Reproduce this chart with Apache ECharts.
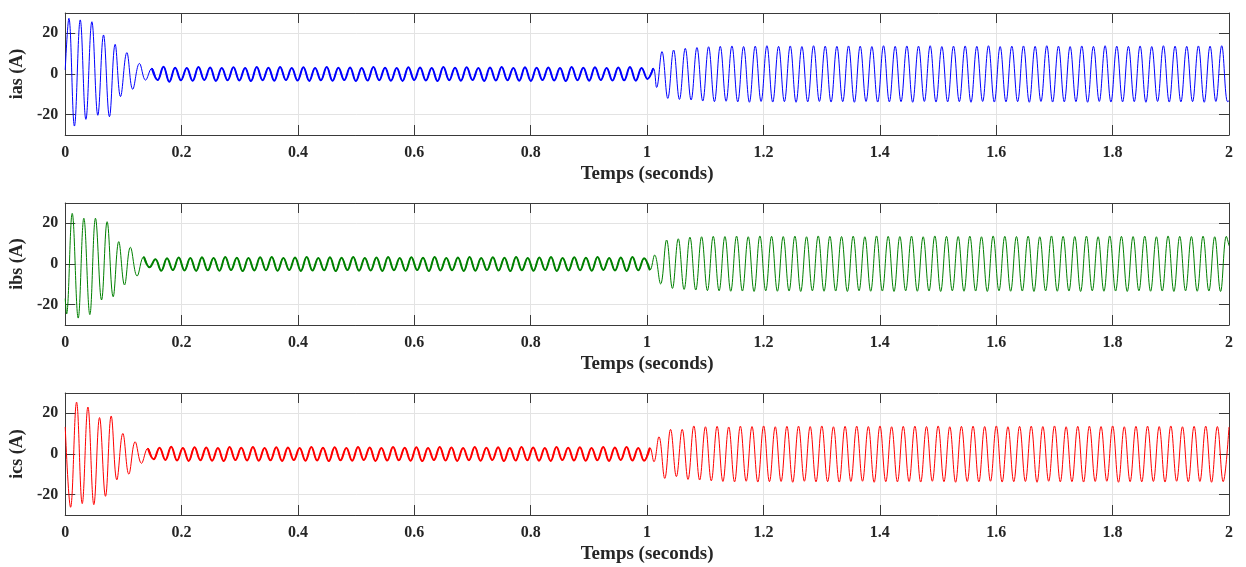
<!DOCTYPE html>
<html>
<head>
<meta charset="utf-8">
<script src="https://cdn.jsdelivr.net/npm/echarts@6/dist/echarts.min.js"></script>
<style>
  html, body { margin: 0; padding: 0; background: #ffffff; }
  #chart { width: 1246px; height: 567px; }
</style>
</head>
<body>
<div id="chart"></div>
<script>
// Stator phase currents of the machine, 0–2 s.
// Each trace is stored as its successive peaks and troughs (A):
//   *_START : start-up transient, [time (s), current (A)] pairs
//   *_LOW   : light-load regime, extrema evenly spread over *_LOW_SPAN
//   *_STEP  : extrema of the load step near t = 1 s
//   *_HIGH  : loaded regime, extrema evenly spread over *_HIGH_SPAN
//   *_END   : value at the end of the run

const X_RANGE = [0, 2];
const X_STEP = 0.2;
const Y_RANGE = [-30, 30];
const Y_TICKS = [-20, 0, 20];
const X_TITLE = 'Temps (seconds)';
const Y_TITLES = ['ias (A)', 'ibs (A)', 'ics (A)'];

// ---- phase a ----
const IAS_START = [[0, 2.0], [0.0063, 27.4], [0.0158, -25.6], [0.0258, 26.6], [0.0355, -22.3],
  [0.0458, 25.7], [0.0560, -20.3], [0.0658, 19.2], [0.0760, -21.0], [0.0858, 14.6],
  [0.0950, -11.1], [0.1059, 10.5], [0.1160, -7.5], [0.1276, 5.2], [0.1380, -3.0]];
const IAS_LOW_SPAN = [0.1488, 1.0106];
const IAS_LOW = [
  2.8, -3.0, 3.6, -3.8, 3.1, -3.1, 3.0, -3.3, 3.4, -3.0,
  3.2, -3.4, 2.9, -3.1, 3.3, -3.2, 3.0, -3.5, 3.4, -3.1,
  3.1, -3.3, 3.5, -3.0, 2.9, -3.2, 3.3, -3.4, 3.0, -3.1,
  3.4, -3.3, 3.1, -3.0, 3.2, -3.5, 3.0, -3.2, 3.5, -3.1,
  3.1, -3.3, 2.9, -3.4, 3.3, -3.0, 3.2, -3.2, 3.0, -3.5,
  3.4, -3.1, 3.1, -3.3, 3.3, -3.0, 2.9, -3.4, 3.2, -3.2,
  3.5, -3.1, 3.0, -3.3, 3.3, -3.4, 3.1, -3.0, 3.2, -3.2,
  3.0, -3.5, 3.4, -3.1, 3.1, -3.3, 3.3, -3.0, 3.0, -3.2,
  3.2, -3.1, 3.4, -3.3, 3.0, -2.4, 2.8];
const IAS_STEP = [[1.0163, -6.6]];
const IAS_HIGH_SPAN = [1.0255, 1.9975];
const IAS_HIGH = [
  11.0, -12.0, 11.8, -12.5, 12.6, -12.8, 13.0, -13.3, 13.4, -13.6,
  13.6, -13.4, 13.8, -13.7, 13.5, -13.9, 13.7, -13.5, 13.9, -13.8,
  13.6, -13.6, 13.8, -13.9, 13.5, -13.7, 13.9, -13.5, 13.7, -13.8,
  13.6, -13.6, 13.8, -13.9, 13.7, -13.5, 13.5, -13.8, 13.9, -13.7,
  13.6, -13.6, 13.8, -13.9, 13.7, -13.5, 13.9, -13.8, 13.5, -13.7,
  13.7, -13.6, 13.8, -13.9, 13.6, -13.5, 13.9, -13.8, 13.5, -13.7,
  13.7, -13.6, 13.8, -13.9, 13.6, -13.5, 13.9, -13.8, 13.7, -13.7,
  13.5, -13.6, 13.8, -13.9, 13.6, -13.5, 13.9, -13.8, 13.7, -13.7,
  13.6, -13.6, 13.8, -13.9, 13.5, -13.5, 13.9, -13.8, 13.7, -13.7,
  13.6, -13.6, 13.8, -13.9, 13.7, -13.5, 13.9, -13.6];
const IAS_END = [[2, -13.2]];

// ---- phase b ----
const IBS_START = [[0, -17.0], [0.0023, -24.6], [0.0120, 24.9], [0.0223, -26.6], [0.0320, 22.5],
  [0.0423, -24.9], [0.0520, 22.5], [0.0624, -17.7], [0.0720, 20.8], [0.0824, -16.1],
  [0.0920, 11.0], [0.1019, -10.3], [0.1120, 8.2], [0.1236, -5.9]];
const IBS_LOW_SPAN = [0.1350, 1.0048];
const IBS_LOW = [
  3.6, -1.6, 2.3, -3.3, 2.8, -3.0, 3.2, -3.2, 2.9, -3.4,
  3.3, -3.1, 3.0, -3.3, 3.4, -3.0, 3.1, -3.5, 2.9, -3.2,
  3.3, -3.1, 3.5, -3.3, 3.0, -3.0, 3.2, -3.4, 3.4, -3.2,
  2.9, -3.1, 3.3, -3.5, 3.1, -3.0, 3.5, -3.3, 3.0, -3.2,
  3.2, -3.4, 3.4, -3.1, 2.9, -3.3, 3.3, -3.0, 3.1, -3.5,
  3.5, -3.2, 3.0, -3.1, 3.2, -3.4, 3.4, -3.3, 2.9, -3.0,
  3.3, -3.2, 3.1, -3.5, 3.5, -3.1, 3.0, -3.3, 3.2, -3.0,
  3.4, -3.4, 2.9, -3.2, 3.3, -3.1, 3.1, -3.3, 3.5, -3.0,
  3.0, -3.2, 3.2, -3.4, 3.4, -3.1, 2.8, -3.0];
const IBS_STEP = [[1.0129, 4.4], [1.0232, -9.8]];
const IBS_HIGH_SPAN = [1.0335, 1.9955];
const IBS_HIGH = [
  11.8, -12.0, 12.4, -12.5, 13.2, -12.8, 13.4, -13.1, 13.6, -13.2,
  13.5, -13.4, 13.7, -13.3, 13.4, -13.5, 13.8, -13.2, 13.6, -13.4,
  13.5, -13.3, 13.7, -13.5, 13.4, -13.2, 13.8, -13.4, 13.6, -13.3,
  13.5, -13.5, 13.7, -13.2, 13.4, -13.4, 13.8, -13.3, 13.6, -13.5,
  13.5, -13.2, 13.7, -13.4, 13.4, -13.3, 13.8, -13.5, 13.6, -13.2,
  13.5, -13.4, 13.7, -13.3, 13.4, -13.5, 13.8, -13.2, 13.6, -13.4,
  13.5, -13.3, 13.7, -13.5, 13.4, -13.2, 13.8, -13.4, 13.6, -13.3,
  13.5, -13.5, 13.7, -13.2, 13.4, -13.4, 13.8, -13.3, 13.6, -13.5,
  13.5, -13.2, 13.7, -13.4, 13.4, -13.3, 13.8, -13.5, 13.6, -13.2,
  13.5, -13.4, 13.7, -13.3, 13.4, -13.5, 13.6];
const IBS_END = [[2, 9.0]];

// ---- phase c ----
const ICS_START = [[0, 13.3], [0.0092, -26.2], [0.0195, 25.5], [0.0292, -24.4], [0.0390, 23.1],
  [0.0492, -24.9], [0.0590, 17.9], [0.0692, -20.8], [0.0790, 18.7], [0.0887, -12.7],
  [0.0990, 10.1], [0.1093, -9.9], [0.1202, 6.0], [0.1310, -4.6]];
const ICS_LOW_SPAN = [0.1420, 1.0048];
const ICS_LOW = [
  2.8, -2.6, 3.1, -2.9, 3.6, -3.2, 3.0, -3.4, 3.3, -3.1,
  3.2, -3.3, 2.9, -3.5, 3.4, -3.0, 3.1, -3.2, 3.5, -3.3,
  3.0, -3.1, 3.3, -3.4, 3.2, -3.0, 2.9, -3.3, 3.4, -3.2,
  3.1, -3.5, 3.3, -3.1, 3.0, -3.3, 3.5, -3.0, 3.2, -3.4,
  2.9, -3.2, 3.4, -3.1, 3.1, -3.3, 3.3, -3.5, 3.0, -3.0,
  3.5, -3.2, 3.2, -3.4, 2.9, -3.1, 3.4, -3.3, 3.1, -3.0,
  3.3, -3.5, 3.0, -3.2, 3.5, -3.1, 3.2, -3.3, 2.9, -3.4,
  3.4, -3.0, 3.1, -3.2, 3.3, -3.3, 3.0, -3.1, 3.5, -3.4,
  3.2, -3.0, 3.4, -3.2, 2.9, -3.3, 3.1];
const ICS_STEP = [[1.0117, -3.8]];
const ICS_HIGH_SPAN = [1.0203, 2.0];
const ICS_HIGH = [
  8.5, -12.0, 12.1, -11.1, 12.1, -12.5, 13.8, -12.8, 13.4, -13.2,
  13.6, -13.5, 13.3, -13.7, 13.7, -13.4, 13.5, -13.8, 13.8, -13.6,
  13.4, -13.5, 13.6, -13.9, 13.7, -13.4, 13.5, -13.7, 13.8, -13.6,
  13.4, -13.8, 13.6, -13.5, 13.7, -13.4, 13.5, -13.9, 13.8, -13.6,
  13.4, -13.7, 13.6, -13.5, 13.7, -13.8, 13.5, -13.4, 13.8, -13.6,
  13.4, -13.9, 13.6, -13.5, 13.7, -13.7, 13.5, -13.4, 13.8, -13.8,
  13.4, -13.6, 13.6, -13.5, 13.7, -13.9, 13.5, -13.4, 13.8, -13.7,
  13.4, -13.6, 13.6, -13.8, 13.7, -13.5, 13.5, -13.4, 13.8, -13.9,
  13.4, -13.6, 13.6, -13.7, 13.7, -13.5, 13.5, -13.8, 13.8, -13.4,
  13.4, -13.6, 13.6, -13.5, 13.7, -13.9, 13.5, -13.6, 13.3];
const ICS_END = [];

const COLORS = ['#0000ff', '#008000', '#ff0000'];

// Spread a run of extrema evenly across its time span.
function spread(span, values) {
  const dt = (span[1] - span[0]) / (values.length - 1);
  return values.map((v, i) => [span[0] + i * dt, v]);
}

const PHASES = [
  { start: IAS_START, lowSpan: IAS_LOW_SPAN, low: IAS_LOW, step: IAS_STEP, highSpan: IAS_HIGH_SPAN, high: IAS_HIGH, end: IAS_END },
  { start: IBS_START, lowSpan: IBS_LOW_SPAN, low: IBS_LOW, step: IBS_STEP, highSpan: IBS_HIGH_SPAN, high: IBS_HIGH, end: IBS_END },
  { start: ICS_START, lowSpan: ICS_LOW_SPAN, low: ICS_LOW, step: ICS_STEP, highSpan: ICS_HIGH_SPAN, high: ICS_HIGH, end: ICS_END }
];

const AXIS_COLOR = '#3a3a3a';
const GRID_COLOR = '#e3e3e3';
const TEXT_COLOR = '#262626';
const FONT = "'Liberation Serif', 'Times New Roman', serif";

const GRID_LEFT = 64, GRID_RIGHT = 17, GRID_TOP0 = 13, GRID_H = 122, GRID_PITCH = 190;

const grids = [], xAxes = [], yAxes = [], series = [];

PHASES.forEach((ph, i) => {
  grids.push({ left: GRID_LEFT, right: GRID_RIGHT, top: GRID_TOP0 + i * GRID_PITCH, height: GRID_H, containLabel: false });

  // bottom time axis
  xAxes.push({
    gridIndex: i, type: 'value', position: 'bottom',
    min: X_RANGE[0], max: X_RANGE[1], interval: X_STEP,
    axisLine: { show: true, onZero: false, lineStyle: { color: AXIS_COLOR, width: 1 } },
    axisTick: { show: true, inside: true, length: 10, lineStyle: { color: AXIS_COLOR } },
    axisLabel: { show: true, margin: 10, color: TEXT_COLOR, fontFamily: FONT, fontWeight: 'bold', fontSize: 16 },
    splitLine: { show: true, lineStyle: { color: GRID_COLOR, width: 1 } },
    name: X_TITLE, nameLocation: 'middle', nameGap: 30,
    nameTextStyle: { color: TEXT_COLOR, fontFamily: FONT, fontWeight: 'bold', fontSize: 19 }
  });
  // top edge of the box
  xAxes.push({
    gridIndex: i, type: 'value', position: 'top',
    min: X_RANGE[0], max: X_RANGE[1], interval: X_STEP,
    axisLine: { show: true, onZero: false, lineStyle: { color: AXIS_COLOR, width: 1 } },
    axisTick: { show: true, inside: true, length: 10, lineStyle: { color: AXIS_COLOR } },
    axisLabel: { show: false },
    splitLine: { show: false }
  });
  // left current axis
  yAxes.push({
    gridIndex: i, type: 'value', position: 'left',
    min: Y_RANGE[0], max: Y_RANGE[1], interval: 10,
    axisLine: { show: true, onZero: false, lineStyle: { color: AXIS_COLOR, width: 1 } },
    axisTick: { show: true, inside: true, length: 10, customValues: Y_TICKS, lineStyle: { color: AXIS_COLOR } },
    axisLabel: { show: true, customValues: Y_TICKS, margin: 7, color: TEXT_COLOR, fontFamily: FONT, fontWeight: 'bold', fontSize: 16 },
    splitLine: { show: true, lineStyle: { color: GRID_COLOR, width: 1 } },
    name: Y_TITLES[i], nameLocation: 'middle', nameGap: 38, nameRotate: 90,
    nameTextStyle: { color: TEXT_COLOR, fontFamily: FONT, fontWeight: 'bold', fontSize: 18 }
  });
  // right edge of the box
  yAxes.push({
    gridIndex: i, type: 'value', position: 'right',
    min: Y_RANGE[0], max: Y_RANGE[1], interval: 10,
    axisLine: { show: true, onZero: false, lineStyle: { color: AXIS_COLOR, width: 1 } },
    axisTick: { show: true, inside: true, length: 10, customValues: Y_TICKS, lineStyle: { color: AXIS_COLOR } },
    axisLabel: { show: false },
    splitLine: { show: false }
  });

  const lowPts = spread(ph.lowSpan, ph.low);
  const full = [].concat(ph.start, lowPts, ph.step, spread(ph.highSpan, ph.high), ph.end);

  series.push({
    type: 'line', xAxisIndex: 2 * i, yAxisIndex: 2 * i,
    data: full, showSymbol: false, smooth: 0.4,
    lineStyle: { color: COLORS[i], width: 1 }, silent: true, z: 3
  });
  // the light-load stretch carries switching ripple and reads as a heavier trace
  series.push({
    type: 'line', xAxisIndex: 2 * i, yAxisIndex: 2 * i,
    data: lowPts, showSymbol: false, smooth: 0.4,
    lineStyle: { color: COLORS[i], width: 2 }, silent: true, z: 4
  });
});

const chart = echarts.init(document.getElementById('chart'), null, { renderer: 'canvas' });
chart.setOption({
  animation: false,
  backgroundColor: '#ffffff',
  grid: grids,
  xAxis: xAxes,
  yAxis: yAxes,
  series: series
});
</script>
</body>
</html>
